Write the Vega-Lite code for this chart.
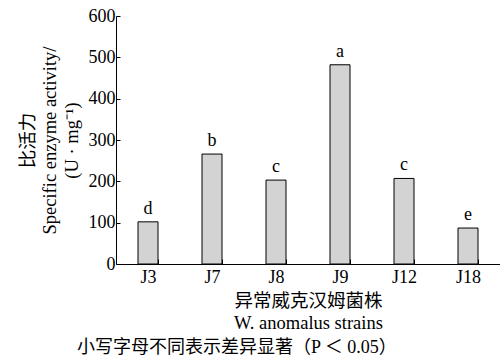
{
  "$schema": "https://vega.github.io/schema/vega-lite/v6.json",
  "width": 384,
  "height": 248,
  "autosize": {"type": "none"},
  "padding": {"left": 116, "top": 16, "right": 0, "bottom": 95},
  "background": "white",
  "config": {
    "view": {"stroke": null},
    "font": "Liberation Serif, Times New Roman, serif",
    "axis": {"grid": false, "domainColor": "black", "tickColor": "black", "labelColor": "black", "titleColor": "black", "labelFont": "Liberation Serif, Times New Roman, serif", "titleFont": "Liberation Serif, Times New Roman, Noto Sans CJK SC, serif", "titleFontWeight": "normal", "labelFontSize": 18, "titleFontSize": 18.5}
  },
  "title": {
    "text": "小写字母不同表示差异显著（P ＜ 0.05）",
    "orient": "bottom",
    "anchor": "start",
    "frame": "group",
    "dx": -39,
    "offset": 7,
    "font": "Liberation Serif, Times New Roman, Noto Sans CJK SC, serif",
    "fontSize": 18,
    "fontWeight": "normal",
    "color": "black"
  },
  "data": {
    "values": [
      {"strain": "J3", "activity": 102, "sig": "d"},
      {"strain": "J7", "activity": 266, "sig": "b"},
      {"strain": "J8", "activity": 203, "sig": "c"},
      {"strain": "J9", "activity": 482, "sig": "a"},
      {"strain": "J12", "activity": 207, "sig": "c"},
      {"strain": "J18", "activity": 87, "sig": "e"}
    ]
  },
  "encoding": {
    "x": {
      "field": "strain", "type": "nominal", "sort": null,
      "scale": {"paddingInner": 0.6875, "paddingOuter": 0.34375},
      "axis": {
        "labelAngle": 0, "tickBand": "extent", "tickSize": -5, "labelPadding": 9,
        "title": ["异常威克汉姆菌株", "W. anomalus strains"],
        "titleLineHeight": 22, "titlePadding": 5
      }
    },
    "y": {
      "field": "activity", "type": "quantitative",
      "scale": {"domain": [0, 600]},
      "axis": {
        "values": [0, 100, 200, 300, 400, 500, 600], "tickSize": -4, "labelPadding": 5,
        "title": ["比活力", "Specific enzyme activity/", "(U · mg⁻¹)"],
        "titleLineHeight": 22, "titlePadding": 7
      }
    }
  },
  "layer": [
    {"mark": {"type": "bar", "fill": "#d3d3d3", "stroke": "black", "strokeWidth": 1}},
    {"mark": {"type": "text", "baseline": "bottom", "dy": -4, "fontSize": 18, "font": "Liberation Serif, Times New Roman, serif", "color": "black"}, "encoding": {"text": {"field": "sig"}}}
  ]
}
